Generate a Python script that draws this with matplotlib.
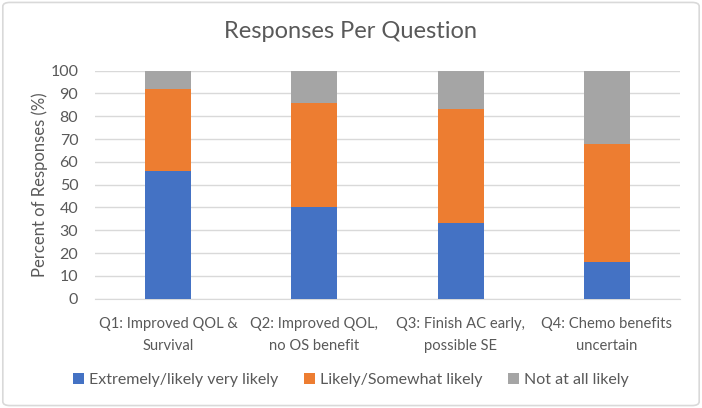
import matplotlib.pyplot as plt
from matplotlib.patches import FancyBboxPatch

plt.rcParams["font.family"] = ["Lato", "DejaVu Sans"]

categories = [
    "Q1: Improved QOL &\nSurvival",
    "Q2: Improved QOL,\nno OS benefit",
    "Q3: Finish AC early,\npossible SE",
    "Q4: Chemo benefits\nuncertain",
]
extremely_likely = [56, 40, 33, 16]
somewhat_likely = [36, 46, 50, 52]
not_likely = [8, 14, 17, 32]
series_names = [
    "Extremely/likely very likely",
    "Likely/Somewhat likely",
    "Not at all likely",
]
y_ticks = [0, 10, 20, 30, 40, 50, 60, 70, 80, 90, 100]

TEXT = "#595959"
COLORS = ["#4472C4", "#ED7D31", "#A5A5A5"]

fig = plt.figure(figsize=(7.02, 4.08), dpi=100)
ax = fig.add_axes([0.1353, 0.268, 0.8334, 0.559])

x = list(range(len(categories)))
bottom = [0] * len(categories)
for name, vals, color in zip(series_names, [extremely_likely, somewhat_likely, not_likely], COLORS):
    ax.bar(x, vals, width=0.315, bottom=bottom, color=color, label=name, zorder=3)
    bottom = [b + v for b, v in zip(bottom, vals)]

ax.set_xlim(-0.5, 3.5)
ax.set_ylim(0, 100)
ax.set_yticks(y_ticks)
ax.set_xticks(x)
ax.set_xticklabels(categories, fontsize=10.6, color=TEXT, linespacing=1.75)
ax.tick_params(axis="y", labelsize=11.5, labelcolor=TEXT, length=0, pad=12)
ax.tick_params(axis="x", length=0, pad=13)
ax.grid(axis="y", color="#D9D9D9", linewidth=1, zorder=0)
for side in ["top", "right", "left"]:
    ax.spines[side].set_visible(False)
ax.spines["bottom"].set_color("#D9D9D9")

ax.set_ylabel("Percent of Responses (%)", fontsize=12, color=TEXT, labelpad=2)
fig.text(0.5, 0.922, "Responses Per Question", ha="center", va="center",
         fontsize=17, color=TEXT)

fig.legend(loc="center", bbox_to_anchor=(0.5, 0.068), ncol=3, frameon=False,
           fontsize=11.5, labelcolor=TEXT, handlelength=0.7, handleheight=0.7,
           handletextpad=0.3, columnspacing=1.6)

border = FancyBboxPatch((0.004, 0.006), 0.992, 0.988, boxstyle="round,pad=0,rounding_size=0.01",
                        transform=fig.transFigure, fill=False, edgecolor="#D9D9D9", linewidth=1.2)
fig.patches.append(border)

fig.savefig("out.png", dpi=100)
